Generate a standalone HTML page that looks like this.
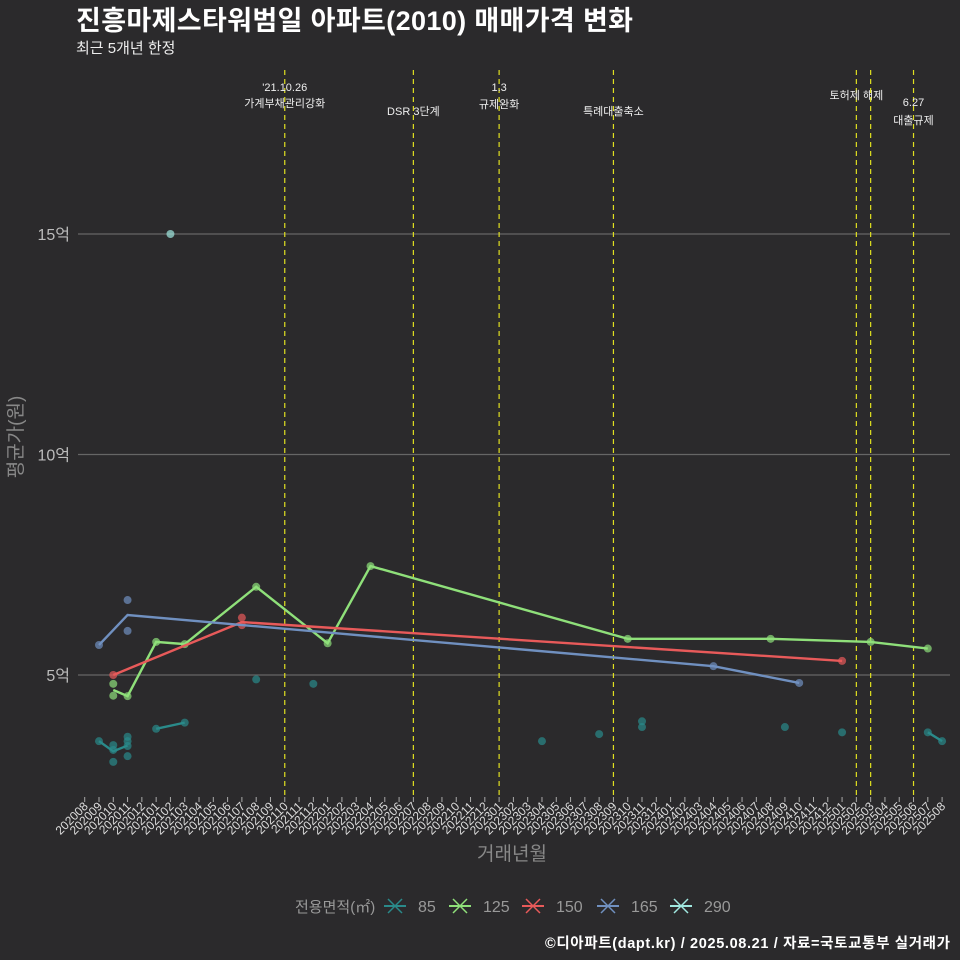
<!DOCTYPE html>
<html><head><meta charset="utf-8"><style>
html,body{margin:0;padding:0;background:#2b2a2c;}
svg{display:block;font-family:"Liberation Sans","Noto Sans CJK KR",sans-serif;}
</style></head><body>
<svg id="chart" width="960" height="960" viewBox="0 0 960 960" xmlns="http://www.w3.org/2000/svg">
<rect width="960" height="960" fill="#2b2a2c"/>
<text x="76" y="30" fill="#fff" font-size="27" font-weight="bold" textLength="557">진흥마제스타워범일 아파트(2010) 매매가격 변화</text>
<text x="76" y="53" fill="#eee" font-size="15">최근 5개년 한정</text>
<g id="grid"></g><g id="vlines"></g><g id="series"></g><g id="axes"></g>
<text transform="translate(22,437) rotate(-90)" text-anchor="middle" fill="#888" font-size="19">평균가(원)</text>
<text x="512" y="860" text-anchor="middle" fill="#888" font-size="19">거래년월</text>
<g id="legend"></g>
<text x="950" y="948" text-anchor="end" fill="#fff" font-size="14.5" font-weight="bold" textLength="405">©디아파트(dapt.kr) / 2025.08.21 / 자료=국토교통부 실거래가</text>
</svg>
<script>
const months=[];for(let y=2020,m=8;!(y===2025&&m===9);){months.push(y+String(m).padStart(2,'0'));m++;if(m>12){m=1;y++;}}
const yTicks=[5,10,15];
const yTickLabels=["5억","10억","15억"];
const seriesNames=["85","125","150","165","290"];
const seriesColors=["#2a8a8a","#8fe07a","#e85a5a","#7090c0","#a0e8e0"];
const line85=[["202009",3.5],["202010",3.27],["202011",3.4],["202101",3.78],["202103",3.92],["202507",3.7],["202508",3.5]];
const pts85=[["202009",3.5],["202010",3.41],["202010",3.3],["202010",3.03],["202011",3.6],["202011",3.5],["202011",3.39],["202011",3.16],["202101",3.78],["202103",3.92],["202108",4.9],["202112",4.8],["202304",3.5],["202308",3.66],["202311",3.95],["202311",3.82],["202409",3.82],["202501",3.7],["202507",3.7],["202508",3.5]];
const line125=[["202010",4.66],["202011",4.52],["202101",5.75],["202103",5.7],["202108",7.0],["202201",5.72],["202204",7.47],["202310",5.82],["202408",5.82],["202503",5.75],["202507",5.6]];
const pts125=[["202010",4.8],["202010",4.53],["202011",4.52],["202101",5.75],["202103",5.7],["202108",7.0],["202201",5.72],["202204",7.47],["202310",5.82],["202408",5.82],["202503",5.75],["202507",5.6]];
const line150=[["202010",5.0],["202107",6.2],["202501",5.32]];
const pts150=[["202010",5.0],["202107",6.3],["202107",6.13],["202501",5.32]];
const line165=[["202009",5.68],["202011",6.36],["202404",5.2],["202410",4.82]];
const pts165=[["202009",5.68],["202011",6.7],["202011",6.0],["202404",5.2],["202410",4.82]];
const pts290=[["202102",15.0]];
const events=[["202110","'21.10.26","가계부채관리강화"],["202207","","DSR 3단계"],["202301","1.3","규제완화"],["202309","","특례대출축소"],["202502","","토허제 해제"],["202503","",""],["202506","6.27","대출규제"]];

const NS="http://www.w3.org/2000/svg";
const X=m=>84.7+14.29*months.indexOf(m);
const Y=v=>895.5-44.1*v;
function mk(tag,attrs,parent){const e=document.createElementNS(NS,tag);for(const k in attrs)e.setAttribute(k,attrs[k]);parent.appendChild(e);return e;}
const grid=document.getElementById('grid'),vl=document.getElementById('vlines'),sg=document.getElementById('series'),ax=document.getElementById('axes'),lg=document.getElementById('legend');
yTicks.forEach((t,i)=>{
 const l=mk('line',{x1:78,x2:950,y1:Y(t),y2:Y(t),stroke:'#666','stroke-width':1.2},grid);
 
 
 const tx=mk('text',{x:70,y:Y(t)+6,'text-anchor':'end',fill:'#bbb','font-size':16},ax);
 tx.textContent=yTickLabels[i];
 
 
});
months.forEach(m=>{
 const x=X(m);
 const t=mk('line',{x1:x,x2:x,y1:797,y2:802,stroke:'#aaa','stroke-width':1},ax);
 
 
 const tx=mk('text',{transform:`translate(${x+4},807) rotate(-45)`,'text-anchor':'end',fill:'#ddd','font-size':12},ax);
 tx.textContent=m;
 
 
});
const evY=[[91,107],[0,115],[91,108],[0,115],[0,99],[0,0],[106,124]];
events.forEach((e,i)=>{
 const x=X(e[0]);
 const l=mk('line',{x1:x,x2:x,y1:70,y2:797,stroke:'#e0e020','stroke-width':1.2,'stroke-dasharray':'5,4'},vl);
 
 
 if(e[1]){const t=mk('text',{x:x,y:evY[i][0],'text-anchor':'middle',fill:'#eee','font-size':11},vl);t.textContent=e[1];
 
 }
 if(e[2]){const t=mk('text',{x:x,y:evY[i][1],'text-anchor':'middle',fill:'#eee','font-size':11},vl);t.textContent=e[2];
 
 }
});
const allLines=[line85,line125,line150,line165,[]];
const allPts=[pts85,pts125,pts150,pts165,pts290];
allPts.forEach((pts,si)=>{
 pts.forEach(p=>{const c=mk('circle',{cx:X(p[0]),cy:Y(p[1]),r:4,fill:seriesColors[si],opacity:0.7},sg);
 
 });
});
const segs85=[line85.slice(0,3),line85.slice(3,5),line85.slice(5)];
function drawLine(arr,si){if(arr.length<2)return;const p=mk('polyline',{points:arr.map(d=>X(d[0])+','+Y(d[1])).join(' '),fill:'none',stroke:seriesColors[si],'stroke-width':2.4},sg);
 
 }
segs85.forEach(s=>drawLine(s,0));
[1,2,3].forEach(si=>drawLine(allLines[si],si));
const lt=mk('text',{x:295,y:912,fill:'#999','font-size':15},lg);lt.textContent='전용면적(㎡)';


const lx=[395,460,533,608,681];
seriesNames.forEach((n,i)=>{
 const g=mk('g',{},lg);
 
 
 const x=lx[i],y=906,c=seriesColors[i];
 mk('line',{x1:x-11,x2:x+11,y1:y,y2:y,stroke:c,'stroke-width':2},g);
 mk('line',{x1:x-7,x2:x+7,y1:y-7,y2:y+7,stroke:c,'stroke-width':1.5},g);
 mk('line',{x1:x-7,x2:x+7,y1:y+7,y2:y-7,stroke:c,'stroke-width':1.5},g);
 const t=mk('text',{x:x+23,y:912,fill:'#999','font-size':16},g);t.textContent=n;
});
</script>
</body></html>
